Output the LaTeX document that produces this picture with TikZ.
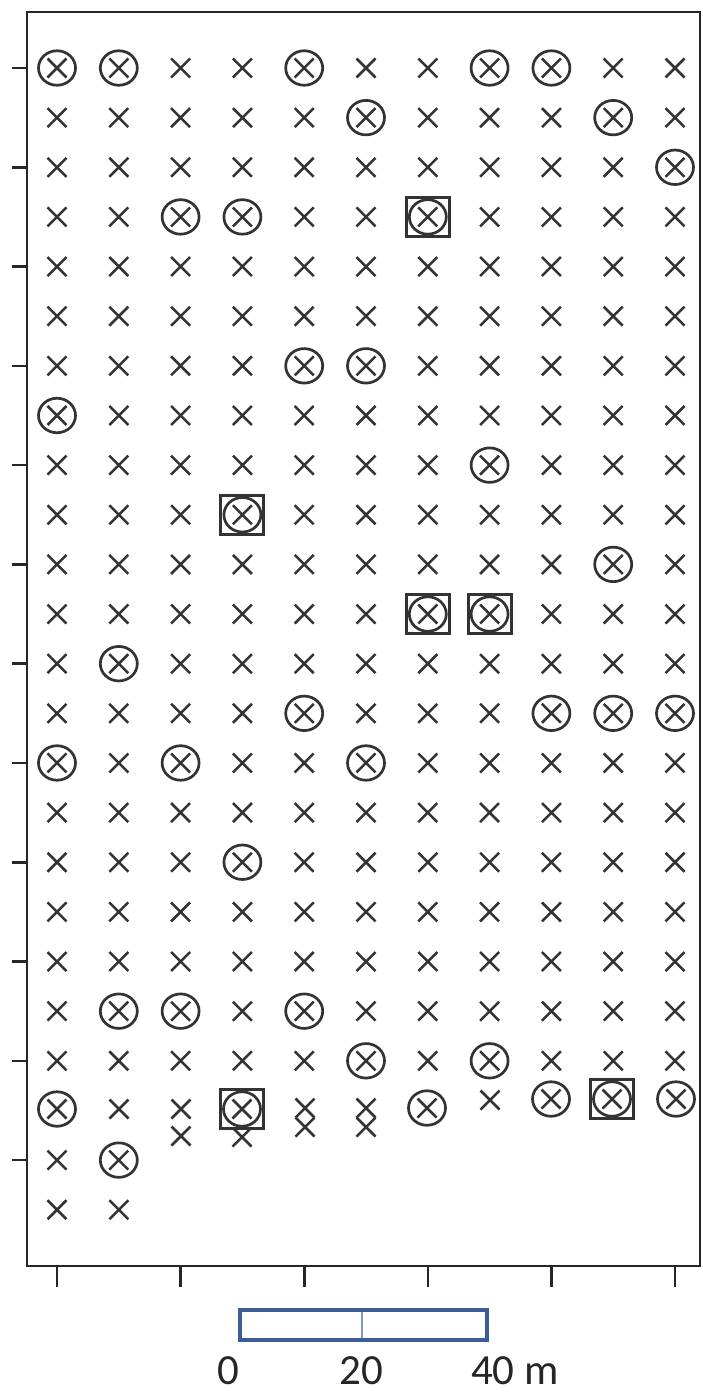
\documentclass[tikz,border=0pt]{standalone}
\usepackage{fontspec}
\newfontfamily\lblfont{Carlito}
\usetikzlibrary{shapes.misc,shapes.geometric}
\definecolor{mk}{HTML}{333333}
\definecolor{fr}{HTML}{262626}
\definecolor{barblue}{HTML}{3B5E96}
\definecolor{barlight}{HTML}{7D9BCB}
\tikzset{
  ptcross/.style={cross out, draw=mk, line width=2.5pt, inner sep=0pt, minimum size=16.5pt},
  ptring/.style={ellipse, draw=mk, line width=2.7pt, inner sep=0pt, minimum width=37pt, minimum height=34.5pt},
  ptsquare/.style={rectangle, draw=mk, line width=3pt, inner sep=0pt, minimum width=43pt, minimum height=39pt},
  plotframe/.style={draw=fr, line width=2.6pt},
  ticksty/.style={draw=fr, line width=2.6pt},
  barsty/.style={draw=barblue, line width=4pt},
  bardiv/.style={draw=barlight, line width=1.6pt},
  lblsty/.style={font=\lblfont\fontsize{43}{48}\selectfont, text=fr, inner sep=0pt, anchor=base}
}
\begin{document}
\begin{tikzpicture}[x=1pt,y=-1pt]
\useasboundingbox (0,0) rectangle (702,1395);
% frame
\draw[plotframe] (27,12) rectangle (700,1266);
% left ticks (every second row)
\foreach \r in {0,2,...,22}{
  \pgfmathsetmacro{\yy}{68+49.64*\r}
  \draw[ticksty] (12,\yy) -- (27,\yy);
}
% bottom ticks (every second column)
\foreach \c in {0,2,...,10}{
  \pgfmathsetmacro{\xx}{57+61.8*\c}
  \draw[ticksty] (\xx,1266) -- (\xx,1287);
}
% regular grid of crosses
\foreach \r in {0,...,20}{
  \foreach \c in {0,...,10}{
    \pgfmathsetmacro{\xx}{57+61.8*\c}
    \pgfmathsetmacro{\yy}{68+49.64*\r}
    \node[ptcross] (x-\r-\c) at (\xx,\yy) {};
  }
}
\foreach \r in {22,23}{
  \foreach \c in {0,1}{
    \pgfmathsetmacro{\xx}{57+61.8*\c}
    \pgfmathsetmacro{\yy}{68+49.64*\r}
    \node[ptcross] (x-\r-\c) at (\xx,\yy) {};
  }
}
% circled points
\foreach \r/\c in {0/0,0/1,0/4,0/7,0/8,1/5,1/9,2/10,3/2,3/3,3/6,6/4,6/5,7/0,8/7,9/3,10/9,11/6,11/7,12/1,13/4,13/8,13/9,13/10,14/0,14/2,14/5,16/3,19/1,19/2,19/4,20/5,20/7,22/1}{
  \pgfmathsetmacro{\xx}{57+61.8*\c}
  \pgfmathsetmacro{\yy}{68+49.64*\r}
  \node[ptring] (c-\r-\c) at (\xx,\yy) {};
}
% squared points
\foreach \r/\c in {3/6,9/3,11/6,11/7}{
  \pgfmathsetmacro{\xx}{57+61.8*\c}
  \pgfmathsetmacro{\yy}{68+49.64*\r}
  \node[ptsquare] (s-\r-\c) at (\xx,\yy) {};
}
% irregular bottom row
\node[ptcross] (b0x) at (57,1109) {};
\node[ptring] (b0c) at (57,1109) {};
\node[ptcross] (b1x) at (119,1109) {};
\node[ptcross] (b2a) at (181,1109) {};
\node[ptcross] (b2b) at (181,1136) {};
\node[ptcross] (b3x) at (242,1109) {};
\node[ptring] (b3c) at (242,1109) {};
\node[ptsquare] (b3s) at (242,1109) {};
\node[ptcross] (b3b) at (242,1137) {};
\node[ptcross] (b4a) at (305,1108) {};
\node[ptcross] (b4b) at (305,1127) {};
\node[ptcross] (b5a) at (366,1108) {};
\node[ptcross] (b5b) at (366,1127) {};
\node[ptcross] (b6x) at (427,1108) {};
\node[ptring] (b6c) at (427,1108) {};
\node[ptcross] (b7x) at (490,1100) {};
\node[ptcross] (b8x) at (551,1099) {};
\node[ptring] (b8c) at (551,1099) {};
\node[ptcross] (b9x) at (612,1099) {};
\node[ptring] (b9c) at (612,1099) {};
\node[ptsquare] (b9s) at (612,1099) {};
\node[ptcross] (b10x) at (676,1099) {};
\node[ptring] (b10c) at (676,1099) {};
% scale bar
\draw[barsty] (240,1310) rectangle (487,1340);
\draw[bardiv] (362,1312) -- (362,1338);
\node[lblsty] (l0) at (228,1384) {0};
\node[lblsty] (l20) at (361,1384) {20};
\node[lblsty] (l40) at (515,1384) {40 m};
\end{tikzpicture}
\end{document}
